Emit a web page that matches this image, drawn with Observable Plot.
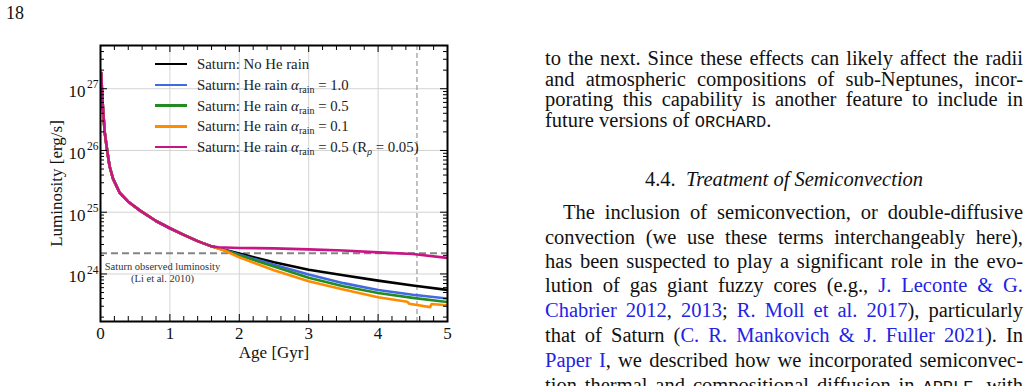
<!DOCTYPE html>
<html>
<head>
<meta charset="utf-8">
<script src="https://cdn.jsdelivr.net/npm/d3@7"></script>
<script src="https://cdn.jsdelivr.net/npm/@observablehq/plot@0.6"></script>
<style>
html,body{margin:0;padding:0;background:#fff;}
body{width:1034px;height:386px;overflow:hidden;position:relative;font-family:"Liberation Serif","Times New Roman",serif;color:#111;}
#chart{position:absolute;left:0;top:0;}
#pagenum{position:absolute;left:6px;top:1px;font-size:18px;line-height:24px;}
.row{position:absolute;left:197px;height:16px;line-height:16px;font-size:14.8px;white-space:nowrap;color:#222;}
.row sub{font-size:10px;line-height:0;vertical-align:-3px;}
.sw{position:absolute;left:155px;width:32px;height:2.6px;}
.ln{position:absolute;left:545px;width:478px;font-size:20.5px;line-height:24px;white-space:nowrap;}
.ln.head{text-align:center;}
.tt{font-family:"Liberation Mono","DejaVu Sans Mono",monospace;font-size:17px;}
.lk{color:#2323e6;}
</style>
</head>
<body>
<div id="pagenum">18</div>
<div id="chart"></div>
<div id="legend"></div>

<div class="ln just" style="top:46px"><span class="in">to the next. Since these effects can likely affect the radii</span></div>
<div class="ln just" style="top:66.5px"><span class="in">and atmospheric compositions of sub-Neptunes, incor-</span></div>
<div class="ln just" style="top:87.2px"><span class="in">porating this capability is another feature to include in</span></div>
<div class="ln" style="top:108px"><span class="in">future versions of <span class="tt">ORCHARD</span>.</span></div>
<div class="ln head" style="top:166.5px"><span class="in">4.4.&nbsp;&nbsp;<i>Treatment of Semiconvection</i></span></div>
<div class="ln just" data-indent="18" style="top:200px"><span class="in">The inclusion of semiconvection, or double-diffusive</span></div>
<div class="ln just" style="top:224.5px"><span class="in">convection (we use these terms interchangeably here),</span></div>
<div class="ln just" style="top:248.8px"><span class="in">has been suspected to play a significant role in the evo-</span></div>
<div class="ln just" style="top:273.4px"><span class="in">lution of gas giant fuzzy cores (e.g., <span class="lk">J. Leconte &amp; G.</span></span></div>
<div class="ln just" style="top:298px"><span class="in"><span class="lk">Chabrier 2012</span>, <span class="lk">2013</span>; <span class="lk">R. Moll et al. 2017</span>), particularly</span></div>
<div class="ln just" style="top:322.8px"><span class="in">that of Saturn (<span class="lk">C. R. Mankovich &amp; J. Fuller 2021</span>). In</span></div>
<div class="ln just" style="top:348px"><span class="in"><span class="lk">Paper I</span>, we described how we incorporated semiconvec-</span></div>
<div class="ln just" style="top:372.5px"><span class="in">tion thermal and compositional diffusion in <span class="tt">APPLE</span>, with</span></div>

<script>
// ---------------- data ----------------
const seriesKeys = ["noRain", "rain10", "rain05", "rain01", "rain05Rp"];
const seriesLabels = [
  'Saturn: No He rain',
  'Saturn: He rain <i>α</i><sub>rain</sub> = 1.0',
  'Saturn: He rain <i>α</i><sub>rain</sub> = 0.5',
  'Saturn: He rain <i>α</i><sub>rain</sub> = 0.1',
  'Saturn: He rain <i>α</i><sub>rain</sub> = 0.5 (R<sub><i>ρ</i></sub> = 0.05)'
];
const seriesColors = ["#000000", "#4169e1", "#228b22", "#ff8c00", "#c71585"];

// shared early cooling track (Gyr, erg/s)
const ageEarly = [0.01, 0.02, 0.035, 0.06, 0.096, 0.13, 0.18, 0.278, 0.4, 0.576, 0.8, 1.0, 1.2, 1.4, 1.6];
const lumEarly = [1.8e27, 1.0e27, 5.0e26, 2.0e26, 1.0e26, 5.6e25, 3.5e25, 2.05e25, 1.48e25, 1.05e25, 7.2e24, 5.5e24, 4.3e24, 3.4e24, 2.8e24];

// divergent late tracks
const ageNoRain = [1.8, 2.0, 2.5, 3.0, 3.5, 4.0, 4.5, 5.0];
const lumNoRain = [2.45e24, 2.14e24, 1.55e24, 1.17e24, 9.5e23, 7.8e23, 6.5e23, 5.5e23];
const ageRain10 = [1.8, 2.0, 2.5, 3.0, 3.5, 4.0, 4.5, 5.0];
const lumRain10 = [2.43e24, 2.05e24, 1.41e24, 9.8e23, 7.1e23, 5.5e23, 4.6e23, 4.0e23];
const ageRain05 = [1.8, 2.0, 2.5, 3.0, 3.5, 4.0, 4.5, 5.0];
const lumRain05 = [2.4e24, 2.0e24, 1.32e24, 8.7e23, 6.3e23, 4.9e23, 4.1e23, 3.5e23];
const ageRain01 = [1.8, 2.0, 2.5, 3.0, 3.5, 4.0, 4.42, 4.45, 4.75, 4.77, 5.0];
const lumRain01 = [2.35e24, 1.86e24, 1.15e24, 7.6e23, 5.6e23, 4.2e23, 3.55e23, 3.3e23, 2.9e23, 3.27e23, 3.1e23];
const ageRain05Rp = [1.7, 2.0, 2.5, 3.0, 3.5, 4.0, 4.5, 5.0];
const lumRain05Rp = [2.7e24, 2.63e24, 2.6e24, 2.5e24, 2.4e24, 2.24e24, 2.1e24, 1.82e24];

const saturnObsLum = 2.17e24;   // Li et al. 2010
const saturnAge = 4.56;         // Gyr
const obsLabel = "Saturn observed luminosity\n(Li et al. 2010)";

const xTickValues = [0, 1, 2, 3, 4, 5];
const xGridValues = [1, 2, 3, 4];
const yTickValues = [1e24, 1e25, 1e26, 1e27];
const yTickExponents = ["24", "25", "26", "27"];
const xLabel = "Age [Gyr]";
const yLabel = "Luminosity [erg/s]";

// ---------------- build table ----------------
const lateAges = [ageNoRain, ageRain10, ageRain05, ageRain01, ageRain05Rp];
const lateLums = [lumNoRain, lumRain10, lumRain05, lumRain01, lumRain05Rp];
const rows = [];
seriesKeys.forEach((key, s) => {
  ageEarly.forEach((a, i) => rows.push({key, age: a, L: lumEarly[i]}));
  lateAges[s].forEach((a, i) => rows.push({key, age: a, L: lateLums[s][i]}));
});

// ticks
const yMin = Math.pow(10, 23.23), yMax = Math.pow(10, 27.70);
const xMinor = d3.range(0, 51, 2).map(v => v / 10).filter(v => !Number.isInteger(v));
const yMinor = [];
for (let e = 23; e <= 27; e++) for (let m = 2; m <= 9; m++) {
  const v = m * Math.pow(10, e);
  if (v >= yMin && v <= yMax) yMinor.push(v);
}

// ---------------- plot ----------------
const W = 470, H = 370, mL = 100, mR = 23, mT = 45, mB = 49;
const fw = W - mL - mR, fh = H - mT - mB;

const chart = Plot.plot({
  width: W, height: H,
  marginLeft: mL, marginRight: mR, marginTop: mT, marginBottom: mB,
  style: {fontFamily: '"Liberation Serif", "Times New Roman", serif', fontSize: "17px", background: "transparent", color: "#111", overflow: "visible"},
  x: {domain: [0, 5], axis: null},
  y: {type: "log", domain: [yMin, yMax], axis: null},
  color: {domain: seriesKeys, range: seriesColors},
  marks: [
    Plot.ruleX(xGridValues, {x: d => d, stroke: "#d4d4d4", strokeWidth: 1}),
    Plot.ruleY(yTickValues, {y: d => d, stroke: "#d4d4d4", strokeWidth: 1}),
    Plot.ruleX([saturnAge], {x: d => d, stroke: "#9a9a9a", strokeWidth: 1.2, strokeDasharray: "5,3"}),
    Plot.ruleY([saturnObsLum], {y: d => d, stroke: "#858585", strokeWidth: 2, strokeDasharray: "7,4"}),
    Plot.text([saturnObsLum], {y: d => d, frameAnchor: "left", text: () => obsLabel, textAnchor: "middle", lineAnchor: "top", dx: 62, dy: 9, fontSize: 10.5, lineHeight: 1.1, fill: "#333"}),
    Plot.line(rows, {x: "age", y: "L", z: "key", stroke: "key", strokeWidth: 2.6, strokeLinejoin: "round", clip: true}),
    // inward ticks
    Plot.tickX(xTickValues, {x: d => d, insetTop: fh - 7, stroke: "#000", strokeWidth: 1}),
    Plot.tickX(xMinor, {x: d => d, insetTop: fh - 5, stroke: "#000", strokeWidth: 1}),
    Plot.tickX(xTickValues, {x: d => d, insetBottom: fh - 7, stroke: "#000", strokeWidth: 1}),
    Plot.tickX(xMinor, {x: d => d, insetBottom: fh - 5, stroke: "#000", strokeWidth: 1}),
    Plot.tickY(yTickValues, {y: d => d, insetRight: fw - 7, stroke: "#000", strokeWidth: 1}),
    Plot.tickY(yMinor, {y: d => d, insetRight: fw - 4, stroke: "#000", strokeWidth: 1}),
    Plot.tickY(yTickValues, {y: d => d, insetLeft: fw - 7, stroke: "#000", strokeWidth: 1}),
    Plot.tickY(yMinor, {y: d => d, insetLeft: fw - 4, stroke: "#000", strokeWidth: 1}),
    Plot.frame({stroke: "#000", strokeWidth: 2}),
    // tick labels
    Plot.text(xTickValues, {x: d => d, frameAnchor: "bottom", textAnchor: "middle", lineAnchor: "top", dy: 5, text: d => String(d), fontSize: 17}),
    Plot.text(yTickValues, {y: d => d, frameAnchor: "left", textAnchor: "end", dx: -15, dy: 3, text: () => "10", fontSize: 17}),
    Plot.text(yTickValues, {y: d => d, frameAnchor: "left", textAnchor: "end", dx: -2, dy: -4, text: (d, i) => yTickExponents[i], fontSize: 11.5}),
    // axis labels
    Plot.text([xLabel], {frameAnchor: "bottom", textAnchor: "middle", lineAnchor: "middle", dy: 31, text: d => d, fontSize: 17}),
    Plot.text([yLabel], {frameAnchor: "left", textAnchor: "middle", rotate: -90, lineAnchor: "middle", dx: -44, text: d => d, fontSize: 17})
  ]
});
document.getElementById("chart").appendChild(chart);

// ---------------- legend ----------------
const legend = document.getElementById("legend");
const rowCenters0 = 64, rowStep = 20.8;
seriesKeys.forEach((key, i) => {
  const c = rowCenters0 + i * rowStep;
  const sw = document.createElement("div");
  sw.className = "sw";
  sw.style.top = (c - 1.3) + "px";
  sw.style.background = seriesColors[i];
  legend.appendChild(sw);
  const r = document.createElement("div");
  r.className = "row";
  r.style.top = (c - 8) + "px";
  r.innerHTML = seriesLabels[i];
  legend.appendChild(r);
});

// ---------------- justify body text lines ----------------
document.querySelectorAll(".ln.just").forEach(el => {
  const indent = +(el.dataset.indent || 0);
  const inner = el.querySelector(".in");
  inner.style.marginLeft = indent + "px";
  const w = inner.getBoundingClientRect().width;
  const n = inner.textContent.trim().split(/\s+/).length - 1;
  const target = 478 - indent;
  if (n > 0) inner.style.wordSpacing = ((target - w) / n) + "px";
});
</script>
</body>
</html>
